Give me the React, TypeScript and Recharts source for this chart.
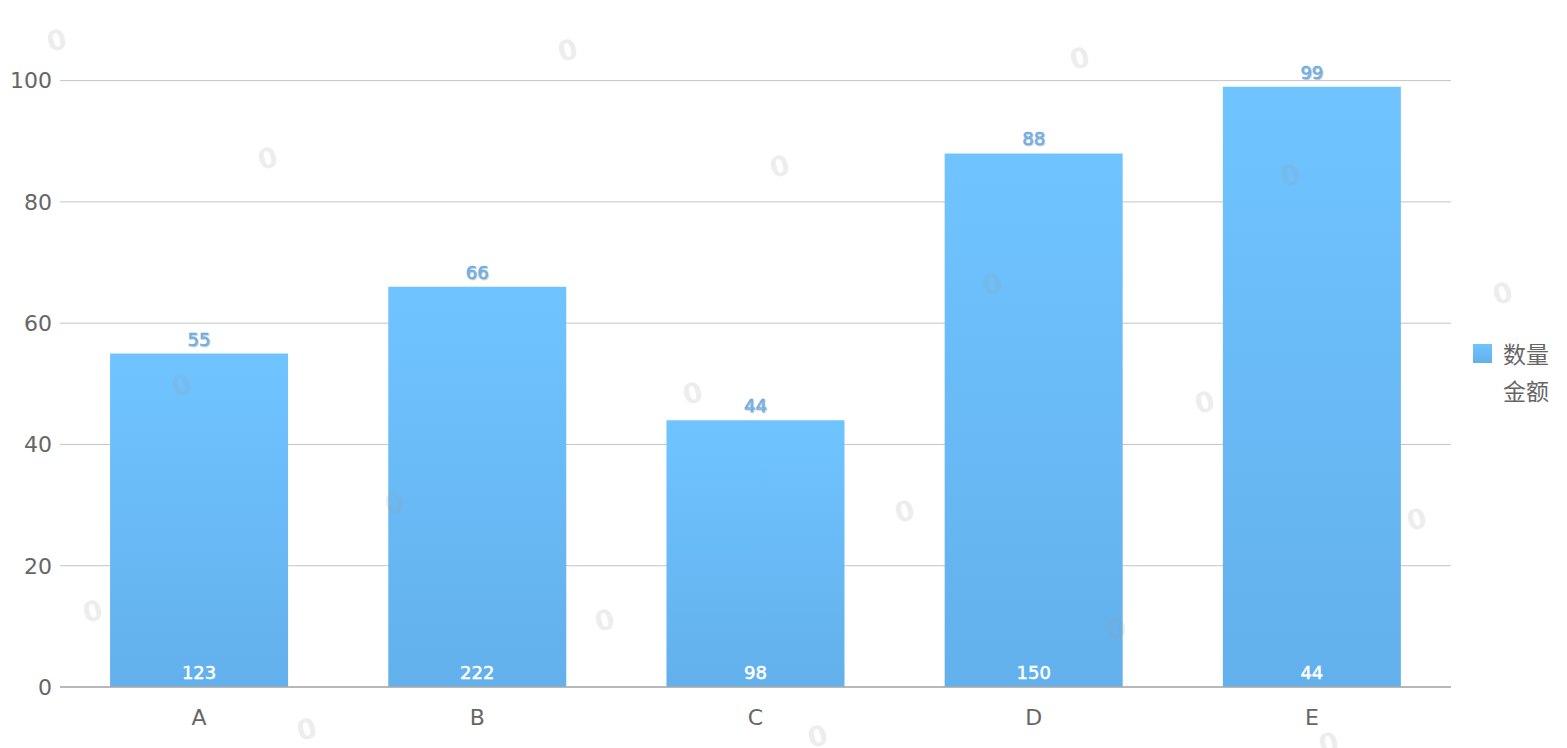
import React from "react";
import {
  BarChart,
  Bar,
  XAxis,
  YAxis,
  CartesianGrid,
  LabelList,
} from "recharts";

const categories = ["A", "B", "C", "D", "E"];
const quantities = [55, 66, 44, 88, 99];
const amounts = [123, 222, 98, 150, 44];
const yTicks = [0, 20, 40, 60, 80, 100];
const boundaryTicks = [0, 1, 2, 3, 4, 5];

// watermark "0" marks, roughly where they sit in the reference
const watermarks = [
  [57, 42], [568, 52], [1080, 60], [268, 160], [780, 168], [1291, 177],
  [993, 286], [1503, 295], [182, 387], [693, 395], [1205, 404], [395, 505],
  [905, 513], [1417, 521], [93, 613], [605, 622], [1117, 630], [307, 731],
  [818, 738], [1329, 745],
];

const data = categories.map((name, i) => ({
  name,
  qty: quantities[i],
  amount: amounts[i],
}));

const FONT = "'DejaVu Sans', Verdana, sans-serif";
const CJK = "'Noto Sans CJK SC', sans-serif";

export default function App() {
  return (
    <div
      style={{
        position: "absolute",
        left: 0,
        top: 0,
        width: 1567,
        height: 748,
        background: "#fff",
        overflow: "hidden",
        fontFamily: FONT,
      }}
    >
      <BarChart
        width={1567}
        height={748}
        data={data}
        margin={{ top: 20, right: 116, left: 0, bottom: 0 }}
        barCategoryGap="18%"
      >
        <defs>
          <linearGradient id="barFill" x1="0" y1="0" x2="0" y2="1">
            <stop offset="0%" stopColor="#6fc4ff" />
            <stop offset="100%" stopColor="#62b0ec" />
          </linearGradient>
        </defs>
        <CartesianGrid
          vertical={false}
          horizontalValues={yTicks}
          stroke="#c4c4c4"
          strokeWidth={1}
        />
        <XAxis
          xAxisId="edges"
          type="number"
          domain={[0, 5]}
          ticks={boundaryTicks}
          height={0}
          tick={false}
          axisLine={false}
          tickSize={5}
          tickLine={{ stroke: "#bbb" }}
        />
        <XAxis
          dataKey="name"
          height={61}
          tickLine={false}
          tickSize={0}
          tickMargin={22}
          axisLine={{ stroke: "#aaa", strokeWidth: 1.5 }}
          tick={{ fontSize: 22, fill: "#666", fontFamily: FONT }}
        />
        <YAxis
          width={60}
          domain={[0, 110]}
          ticks={yTicks}
          axisLine={false}
          tickLine={false}
          tickSize={0}
          tickMargin={8}
          tick={{ fontSize: 22, fill: "#666", fontFamily: FONT }}
        />
        <Bar dataKey="qty" fill="url(#barFill)" isAnimationActive={false}>
          <LabelList
            dataKey="qty"
            position="top"
            offset={8}
            style={{
              fontSize: 18,
              fill: "#5aa9e8",
              stroke: "#5aa9e8",
              strokeWidth: 0.5,
              fontFamily: FONT,
              textShadow: "1px 1px 1px #ccc",
            }}
          />
          <LabelList
            dataKey="amount"
            position="insideBottom"
            offset={8}
            style={{
              fontSize: 18,
              fill: "#fff",
              stroke: "#fff",
              strokeWidth: 0.5,
              fontFamily: FONT,
            }}
          />
        </Bar>
      </BarChart>

      {/* legend */}
      <div style={{ position: "absolute", left: 1473, top: 338, fontFamily: CJK, fontSize: 23, color: "#666" }}>
        <div style={{ display: "flex", alignItems: "center", height: 30 }}>
          <span
            style={{
              width: 19,
              height: 19,
              background: "linear-gradient(#6fc4ff, #62b0ec)",
              marginRight: 11,
            }}
          />
          <span>数量</span>
        </div>
        <div style={{ display: "flex", alignItems: "center", height: 30, marginTop: 7 }}>
          <span style={{ width: 19, marginRight: 11 }} />
          <span>金额</span>
        </div>
      </div>

      {/* watermark */}
      {watermarks.map(([x, y], i) => (
        <div
          key={i}
          style={{
            position: "absolute",
            left: x - 10,
            top: y - 18,
            fontSize: 28,
            fontWeight: 700,
            color: "rgba(160,160,160,0.2)",
            transform: "rotate(-15deg)",
            pointerEvents: "none",
            fontFamily: FONT,
          }}
        >
          0
        </div>
      ))}
    </div>
  );
}
